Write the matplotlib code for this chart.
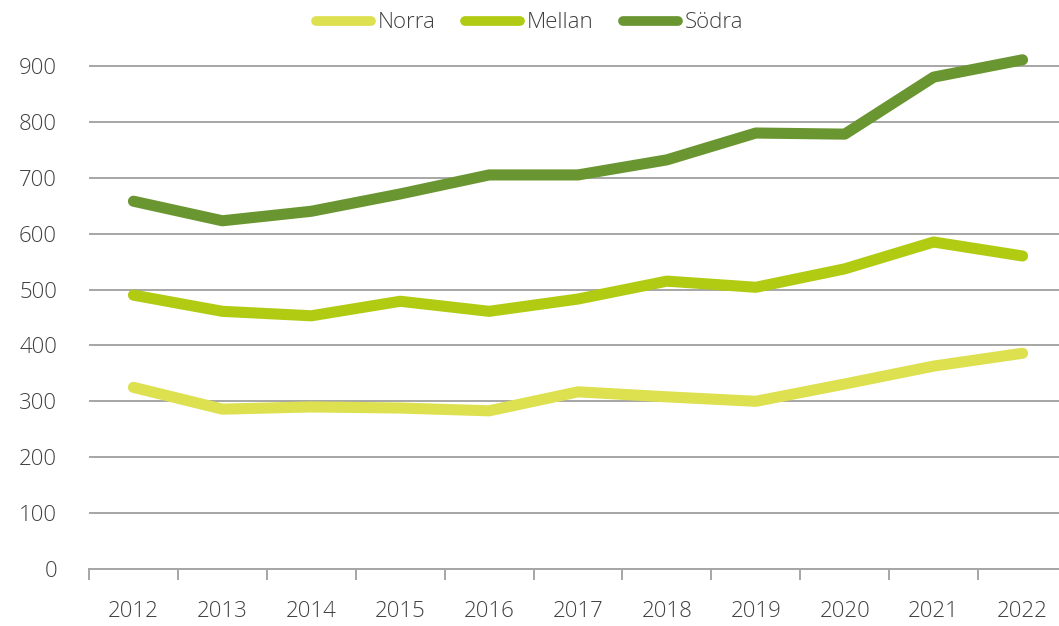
import matplotlib.pyplot as plt

years = ["2012", "2013", "2014", "2015", "2016", "2017", "2018", "2019", "2020", "2021", "2022"]
norra = [325, 286, 290, 288, 283, 317, 308, 300, 331, 363, 386]
mellan = [490, 461, 453, 479, 461, 483, 515, 504, 537, 585, 560]
sodra = [658, 623, 640, 671, 705, 705, 732, 780, 778, 880, 911]

series = [("Norra", norra, "#dde04f"), ("Mellan", mellan, "#b0cb12"), ("Södra", sodra, "#6a9631")]

plt.rcParams['font.family'] = ['Open Sans', 'DejaVu Sans']
plt.rcParams['font.weight'] = 'light'
text_color = "#404040"

fig = plt.figure(figsize=(10.59, 6.26), dpi=100)
ax = fig.add_axes([89 / 1059, 57 / 626, (1067 - 89) / 1059, (569 - 38) / 626])

x = list(range(len(years)))
for name, vals, col in series:
    ax.plot(x, vals, color=col, linewidth=8, solid_capstyle='round',
            solid_joinstyle='round', label=name, clip_on=False, zorder=3)

ax.set_xlim(-0.5, len(years) - 0.5)
ax.set_ylim(0, 950)
ax.set_yticks(range(0, 1000, 100))
ax.grid(axis='y', color='#a6a6a6', linewidth=1.4, zorder=0)
ax.set_axisbelow(True)

ax.set_xticks(x)
ax.set_xticklabels(years)
ax.set_xticks([i - 0.5 for i in range(len(years) + 1)], minor=True)
ax.tick_params(axis='x', which='major', length=0, pad=23, labelsize=16, labelcolor=text_color)
ax.tick_params(axis='x', which='minor', length=8, width=1.4, color='#a6a6a6', direction='out')
ax.tick_params(axis='y', length=0, pad=23, labelsize=16, labelcolor=text_color)

for s in ['top', 'right', 'left']:
    ax.spines[s].set_visible(False)
ax.spines['bottom'].set_color('#a6a6a6')
ax.spines['bottom'].set_linewidth(1.4)

leg = fig.legend(loc='upper center', bbox_to_anchor=(0.5, 1.012), ncol=3, frameon=False,
                 fontsize=16, handlelength=2.5, handletextpad=0.3, columnspacing=1.3)
for t in leg.get_texts():
    t.set_color(text_color)
for h in leg.get_lines():
    h.set_linewidth(7)
    h.set_solid_capstyle('round')

fig.savefig("out.png", dpi=100)
